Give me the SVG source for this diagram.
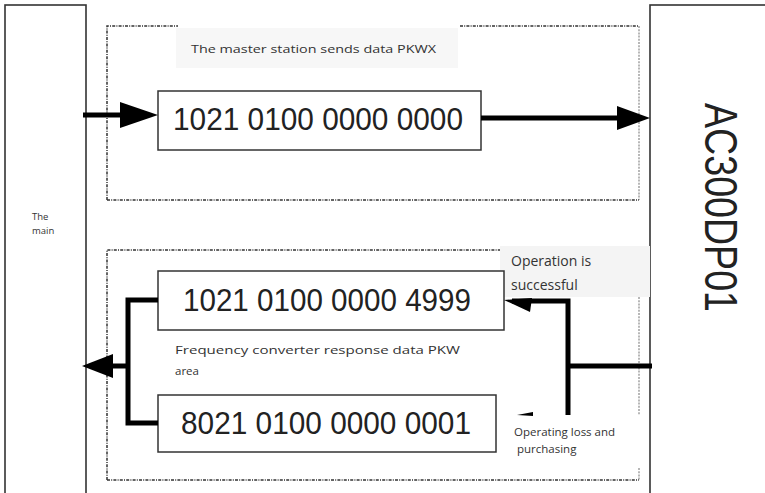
<svg xmlns="http://www.w3.org/2000/svg" width="765" height="493" viewBox="0 0 765 493">
<style>
.frame{fill:#fff;stroke:#333;stroke-width:1.6}
.dash{fill:none;stroke:#333;stroke-width:1.5;stroke-dasharray:3 1.2 1 1.2}
.dashl{fill:none;stroke:#888;stroke-width:1.2;stroke-dasharray:2 1.2}
.val{fill:#fff;stroke:#333;stroke-width:1.5}
.num{font-family:"Liberation Sans",Arial,sans-serif;font-size:31px;fill:#222}
.lbl{font-family:"Open Sans","DejaVu Sans",sans-serif;fill:#333}
.wire{fill:none;stroke:#000;stroke-width:5}
</style>
<rect width="765" height="493" fill="#fff"/>
<g id="main">
<rect class="frame" x="5" y="5" width="81" height="495"/>
<text class="lbl" x="32" y="220" font-size="9.5">The</text>
<text class="lbl" x="32" y="234" font-size="9.5">main</text>
</g>
<g id="ac300">
<rect class="frame" x="650" y="5" width="130" height="495"/>
<text transform="translate(705,103) rotate(90)" font-family="Liberation Sans,Arial,sans-serif" font-size="47" fill="#222" textLength="209" lengthAdjust="spacingAndGlyphs">AC300DP01</text>
</g>
<g id="send-area">
<rect x="176" y="28" width="282" height="40" fill="#f7f7f7"/>
<path class="dash" d="M107,200 V26 H178"/>
<path class="dash" d="M460,26 H639"/>
<path class="dashl" d="M639,26 V200"/>
<path class="dash" d="M107,200 H639"/>
<text class="lbl" x="191" y="53" font-size="11" fill="#444" textLength="245" lengthAdjust="spacingAndGlyphs">The master station sends data PKWX</text>
</g>
<g id="send-value">
<rect class="val" x="158" y="91" width="323" height="59"/>
<text class="num" x="173" y="130" textLength="290" lengthAdjust="spacingAndGlyphs">1021 0100 0000 0000</text>
</g>
<g id="response-area">
<rect x="500" y="246" width="150" height="51" fill="#f4f4f4"/>
<path class="dash" d="M107,480 V250 H500"/>
<path class="dashl" d="M639,297 V415"/>
<path class="dashl" d="M639,468 V480"/>
<path class="dash" d="M107,480 H639"/>
<text class="lbl" x="175" y="354" font-size="11.5" fill="#333" textLength="285" lengthAdjust="spacingAndGlyphs">Frequency converter response data PKW</text>
<text class="lbl" x="175" y="375" font-size="11.5" fill="#333">area</text>
<text class="lbl" x="511" y="266" font-size="14" fill="#222">Operation is</text>
<text class="lbl" x="511" y="290" font-size="14" fill="#222">successful</text>
<text class="lbl" x="514" y="436" font-size="11.5" fill="#333">Operating loss and</text>
<text class="lbl" x="517" y="453" font-size="11.5" fill="#333">purchasing</text>
</g>
<g id="resp-ok">
<rect class="val" x="158" y="271" width="346" height="59"/>
<text class="num" x="183" y="311" textLength="288" lengthAdjust="spacingAndGlyphs">1021 0100 0000 4999</text>
</g>
<g id="resp-fail">
<rect class="val" x="158" y="395" width="338" height="57"/>
<text class="num" x="181" y="434" textLength="290" lengthAdjust="spacingAndGlyphs">8021 0100 0000 0001</text>
</g>
<g id="connectors">
<path class="wire" d="M83,115 H122"/>
<path d="M120,102 L158,115 L120,128 Z" fill="#000"/>
<path class="wire" d="M481,118 H620"/>
<path d="M617,106 L650,118 L617,130 Z" fill="#000"/>
<path class="wire" d="M158,300 H128 V423 H158"/>
<path class="wire" d="M128,366 H110"/>
<path d="M113,354 L82,366 L113,378 Z" fill="#000"/>
<path class="wire" d="M652,366 H568"/>
<path class="wire" d="M568,415 V301 H512"/>
<path d="M504,300 L532,298 L530,312 Z" fill="#000"/>
<path d="M517,415 L533,412 L533,416 Z" fill="#000"/>
</g>
</svg>
